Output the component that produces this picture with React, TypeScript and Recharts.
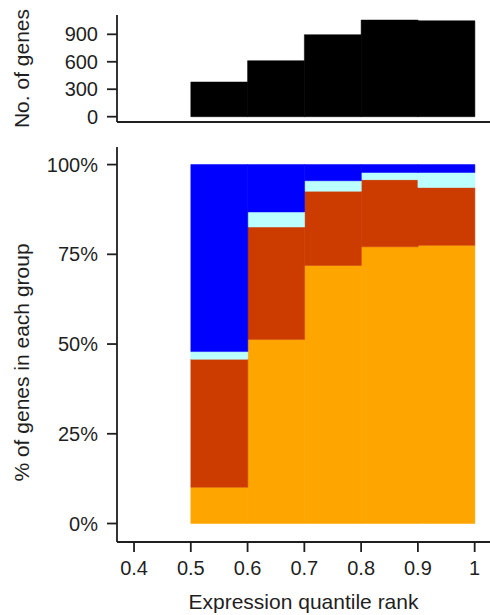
import React from "react";
import { BarChart, Bar, XAxis, YAxis } from "recharts";

// bin centres of the expression quantile rank
const binCenters = [0.55, 0.65, 0.75, 0.85, 0.95];
const geneCounts = [379, 612, 896, 1056, 1048];

// % of genes in each group, bottom to top of the stack
const pctOrange = [10.1, 51.3, 71.9, 77.1, 77.5];
const pctRed = [35.7, 31.3, 20.7, 18.7, 16.1];
const pctCyan = [2.1, 4.2, 2.9, 2.0, 4.2];
const pctBlue = [52.1, 13.2, 4.5, 2.2, 2.2];

const xTicks = [0.4, 0.5, 0.6, 0.7, 0.8, 0.9, 1];
const countTicks = [0, 300, 600, 900];
const pctTicks = [0, 25, 50, 75, 100];

const countData = binCenters.map((x, i) => ({ x, n: geneCounts[i] }));
const pctData = binCenters.map((x, i) => ({
  x,
  orange: pctOrange[i],
  red: pctRed[i],
  cyan: pctCyan[i],
  blue: pctBlue[i],
}));

const FONT = "'Liberation Sans', Arial, sans-serif";
const INK = "#1f1f1f";
const tickStyle = { fontSize: 20, fill: INK, fontFamily: FONT };
const lineStyle = { stroke: INK, strokeWidth: 1.8 };

const yTitle = (text: string, shift: number) => (props: any) => {
  const vb = props.viewBox || {};
  const cx = (vb.x || 0) + 21;
  const cy = (vb.y || 0) + (vb.height || 0) / 2 + shift;
  return (
    <text
      x={cx}
      y={cy}
      transform={`rotate(-90 ${cx} ${cy})`}
      textAnchor="middle"
      dominantBaseline="central"
      fontSize={21}
      fontFamily={FONT}
      fill={INK}
    >
      {text}
    </text>
  );
};

const xTitle = (props: any) => {
  const vb = props.viewBox || {};
  return (
    <text
      x={(vb.x || 0) + (vb.width || 0) / 2}
      y={(vb.y || 0) + 67}
      textAnchor="middle"
      fontSize={21}
      fontFamily={FONT}
      fill={INK}
    >
      Expression quantile rank
    </text>
  );
};

export default function App() {
  return (
    <div
      style={{
        position: "absolute",
        left: 0,
        top: 0,
        width: 490,
        height: 615,
        background: "#fff",
      }}
    >
      <div style={{ position: "absolute", left: 0, top: 0 }}>
        <BarChart
          width={490}
          height={130}
          data={countData}
          margin={{ top: 15, right: 0, left: 0, bottom: 0 }}
          barCategoryGap={0}
          barGap={0}
        >
          <XAxis
            dataKey="x"
            type="number"
            domain={[0.37, 1.027]}
            ticks={xTicks}
            tick={false}
            tickLine={false}
            axisLine={lineStyle}
            height={8}
          />
          <YAxis
            type="number"
            domain={[-58, 1111]}
            ticks={countTicks}
            interval={0}
            width={117}
            tick={tickStyle}
            tickSize={10}
            tickMargin={9}
            tickLine={lineStyle}
            axisLine={lineStyle}
            label={yTitle("No. of genes", 0)}
          />
          <Bar dataKey="n" fill="#000" stroke="#000" strokeWidth={0.5} isAnimationActive={false} />
        </BarChart>
      </div>
      <div style={{ position: "absolute", left: 0, top: 130 }}>
        <BarChart
          width={490}
          height={485}
          data={pctData}
          margin={{ top: 17, right: 0, left: 0, bottom: 0 }}
          barCategoryGap={0}
          barGap={0}
        >
          <XAxis
            dataKey="x"
            type="number"
            domain={[0.37, 1.027]}
            ticks={xTicks}
            interval={0}
            tickFormatter={(v: number) => String(v)}
            tick={tickStyle}
            tickSize={10}
            tickMargin={9}
            tickLine={lineStyle}
            axisLine={lineStyle}
            height={73}
            label={xTitle}
          />
          <YAxis
            type="number"
            domain={[-5.15, 104.9]}
            ticks={pctTicks}
            interval={0}
            tickFormatter={(v: number) => `${v}%`}
            width={117}
            tick={tickStyle}
            tickSize={10}
            tickMargin={9}
            tickLine={lineStyle}
            axisLine={lineStyle}
            label={yTitle("% of genes in each group", 18)}
          />
          <Bar dataKey="orange" stackId="g" fill="#ffa500" stroke="#ffa500" strokeWidth={0.5} isAnimationActive={false} />
          <Bar dataKey="red" stackId="g" fill="#cc3c00" stroke="#cc3c00" strokeWidth={0.5} isAnimationActive={false} />
          <Bar dataKey="cyan" stackId="g" fill="#bbffff" stroke="#bbffff" strokeWidth={0.5} isAnimationActive={false} />
          <Bar dataKey="blue" stackId="g" fill="#0000ff" stroke="#0000ff" strokeWidth={0.5} isAnimationActive={false} />
        </BarChart>
      </div>
    </div>
  );
}
